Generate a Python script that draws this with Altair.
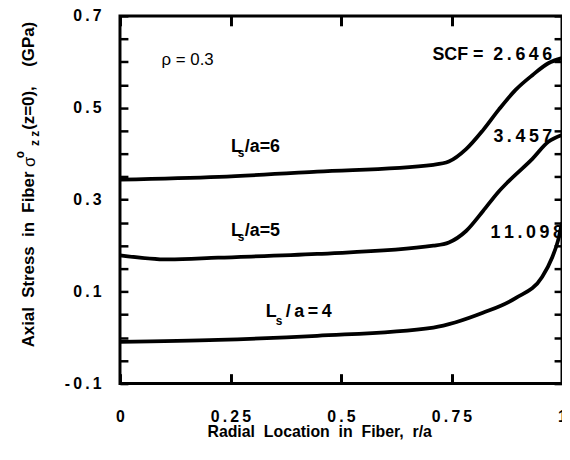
import altair as alt
import pandas as pd

# ---- data ----
x_l6 = [0.0, 0.224, 0.446, 0.709, 0.744, 0.783, 0.821, 0.857, 0.895, 0.933, 0.969, 1.0]
y_l6 = [0.344, 0.350, 0.361, 0.376, 0.383, 0.410, 0.451, 0.496, 0.539, 0.571, 0.597, 0.608]

x_l5 = [0.0, 0.110, 0.222, 0.446, 0.709, 0.744, 0.783, 0.821, 0.857, 0.879, 0.933, 0.969, 1.0]
y_l5 = [0.179, 0.170, 0.174, 0.182, 0.200, 0.207, 0.232, 0.275, 0.318, 0.340, 0.389, 0.426, 0.441]

x_l4 = [0.0, 0.222, 0.446, 0.709, 0.821, 0.895, 0.955, 0.978, 0.991, 1.0]
y_l4 = [-0.009, -0.005, 0.004, 0.022, 0.054, 0.086, 0.132, 0.175, 0.211, 0.250]

series_names = ["Ls/a=6", "Ls/a=5", "Ls/a=4"]

x_tick_values = [0, 0.25, 0.5, 0.75, 1]
y_tick_values = [-0.1, -0.05, 0.0, 0.05, 0.1, 0.15, 0.2, 0.25, 0.3, 0.35,
                 0.4, 0.45, 0.5, 0.55, 0.6, 0.65, 0.7]
x_domain = [0, 1]
y_domain = [-0.1, 0.7]

# curve labels (L_s/a = n), anchor = left/baseline of "L"
lab_num = ["6", "5", "4"]
lab_x = [0.251, 0.251, 0.330]
lab_y = [0.404, 0.222, 0.044]

# SCF annotations (right-aligned)
scf_text = ["SCF = 2.646", "3.457", "11.098"]
scf_x = [0.978, 0.978, 1.002]
scf_y = [0.6035, 0.4255, 0.2174]

rho_text = "\u03c1 = 0.3"
rho_x = [0.094]
rho_y = [0.593]

FONT = "Liberation Sans"
TS = "\u2009"   # thin space for letter spacing
NB = "\u00a0"   # non-collapsing space


def spaced(s):
    return TS.join(list(s))


def wide(s):
    return s.replace("  ", NB + " ")


rows = []
for name, xs, ys in zip(series_names, [x_l6, x_l5, x_l4], [y_l6, y_l5, y_l4]):
    for a, b in zip(xs, ys):
        rows.append({"series": name, "x": a, "y": b})
df = pd.DataFrame(rows)

xs_ = alt.Scale(domain=x_domain, nice=False, zero=False)
ys_ = alt.Scale(domain=y_domain, nice=False, zero=False)

y_label_expr = (
    "abs(round(datum.value*100)) % 20 == 10 ? "
    "join(split(replace(format(datum.value, '.1f'), '\u2212', '-'), ''), '" + TS + "') : ''"
)
x_label_expr = "join(split(datum.label, ''), '" + TS + "')"

lines = alt.Chart(df).mark_line(
    color="black", strokeWidth=3.8, interpolate="monotone"
).encode(
    x=alt.X("x:Q", scale=xs_, axis=alt.Axis(
        orient="bottom", values=x_tick_values, format=".2~f", labelExpr=x_label_expr,
        offset=-10, tickSize=10, tickWidth=3, tickColor="black", domain=False, grid=False,
        labelFont=FONT, labelFontSize=16, labelFontWeight="bold", labelColor="black",
        labelPadding=25, labelFlush=False,
        title=wide("Radial  Location  in  Fiber,  r/a"), titleFont=FONT, titleFontSize=16,
        titleFontWeight="bold", titleColor="black", titleX=201, titleY=63,
        titleBaseline="alphabetic")),
    y=alt.Y("y:Q", scale=ys_, axis=alt.Axis(
        orient="left", values=y_tick_values, labelExpr=y_label_expr,
        offset=-8, tickSize=8, tickWidth=2.5, tickColor="black", domain=False, grid=False,
        labelFont=FONT, labelFontSize=16, labelFontWeight="bold", labelColor="black",
        labelPadding=19, labelFlush=False, title=None)),
    detail="series:N",
)

axes2 = alt.Chart(df).mark_line(opacity=0).encode(
    x=alt.X("x:Q", scale=xs_, axis=alt.Axis(
        orient="top", values=x_tick_values, labels=False, offset=-10, tickSize=10,
        tickWidth=3, tickColor="black", domain=False, grid=False, title=None)),
    y=alt.Y("y:Q", scale=ys_, axis=alt.Axis(
        orient="right", values=y_tick_values, labels=False, offset=-8, tickSize=8,
        tickWidth=2.5, tickColor="black", domain=False, grid=False, title=None)),
    detail="series:N",
)

layers = [lines, axes2]


def txt_chart(data, **mk):
    return alt.Chart(data).mark_text(font=FONT, color="black", **mk).encode(
        x=alt.X("x:Q", scale=xs_, axis=None),
        y=alt.Y("y:Q", scale=ys_, axis=None),
        text="t:N",
    )


# SCF labels
scf_labels = ["SCF" + NB + "=" + NB + " " + spaced("2.646"), spaced("3.457"), spaced("11.098")]
scf_df = pd.DataFrame({"x": scf_x, "y": scf_y, "t": scf_labels})
layers.append(txt_chart(scf_df, fontSize=18, fontWeight="bold", align="right",
                        baseline="alphabetic"))

# rho
rho_df = pd.DataFrame({"x": rho_x, "y": rho_y, "t": [rho_text]})
layers.append(txt_chart(rho_df, fontSize=17, align="left", baseline="alphabetic"))

# L_s/a labels
for i, (n, lx, ly) in enumerate(zip(lab_num, lab_x, lab_y)):
    d = pd.DataFrame({"x": [lx], "y": [ly], "t": ["L"]})
    layers.append(txt_chart(d, fontSize=18, fontWeight="bold", align="left",
                            baseline="alphabetic"))
    sub_dx = 7 if i < 2 else 10
    sub_dy = 5 if i < 2 else 8
    rest_dx = 14 if i < 2 else 20
    d2 = pd.DataFrame({"x": [lx], "y": [ly], "t": ["s"]})
    layers.append(txt_chart(d2, fontSize=12, fontWeight="bold", align="left",
                            baseline="alphabetic", dx=sub_dx, dy=sub_dy))
    rest = "/a=" + n if i < 2 else spaced("/a=" + n)
    d3 = pd.DataFrame({"x": [lx], "y": [ly], "t": [rest]})
    layers.append(txt_chart(d3, fontSize=18, fontWeight="bold", align="left",
                            baseline="alphabetic", dx=rest_dx))

# y-axis title built from pieces (rotated)
one = pd.DataFrame({"k": [0]})
title_pieces = [
    # text, plot-x, plot-y, size, weight, align
    ("(GPa)", -92, 6, 17, "bold", "right"),
    ("(z=0),", -92, 71, 17, "bold", "right"),
    ("z" + NB + "z", -86, 116, 12, "bold", "right"),
    ("o", -101, 140, 12, "bold", "center"),
    ("\u03c3", -91, 142, 17, "normal", "right"),
    (wide("Axial  Stress  in  Fiber"), -92, 157, 17, "bold", "right"),
]
for t, px, py, fs, fw, al in title_pieces:
    layers.append(alt.Chart(one).mark_text(
        text=t, font=FONT, fontSize=fs, fontWeight=fw, align=al, baseline="middle",
        angle=270, color="black").encode(x=alt.value(px), y=alt.value(py)))

chart = alt.layer(*layers).resolve_axis(x="independent", y="independent").properties(
    width=446, height=371,
    autosize=alt.AutoSizeParams(type="none"),
    padding={"left": 113, "top": 6, "right": 0, "bottom": 60},
    background="white",
).configure_view(stroke="black", strokeWidth=3)

chart.save("out.html", embed_options={"renderer": "svg", "actions": False})
